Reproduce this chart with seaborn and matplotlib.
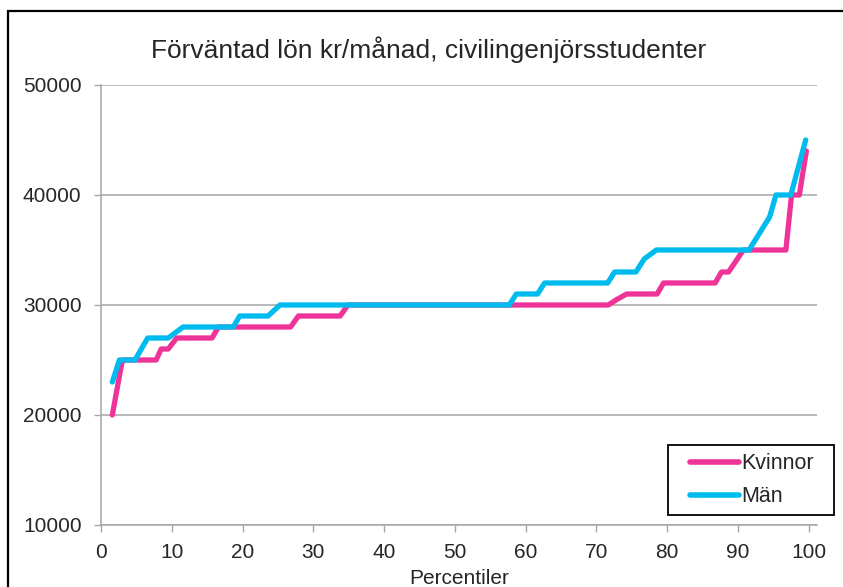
"""Expected monthly salary by percentile for engineering students (women vs men)."""

import matplotlib.pyplot as plt
import pandas as pd
import seaborn as sns
from matplotlib.patches import Rectangle

# polyline vertices (percentile, kr/month)
KVINNOR_PCT = [1.6, 2.9, 3.1, 7.8, 8.5, 9.5, 10.7, 15.7, 16.6, 26.8, 27.9, 33.8, 34.9,
               71.7, 72.9, 74.3, 78.6, 79.5, 86.8, 87.7, 88.7, 90.8, 96.8, 97.6, 98.7, 99.7]
KVINNOR_LON = [20000, 24600, 25000, 25000, 26000, 26000, 27000, 27000, 28000, 28000, 29000, 29000, 30000,
               30000, 30500, 31000, 31000, 32000, 32000, 33000, 33000, 35000, 35000, 40000, 40000, 44000]

MAN_PCT = [1.6, 2.6, 4.8, 6.6, 9.5, 11.6, 18.7, 19.6, 23.6, 25.3, 57.7, 58.7, 61.7,
           62.7, 71.6, 72.6, 75.6, 76.8, 78.5, 91.6, 94.5, 95.4, 97.5, 99.6]
MAN_LON = [23000, 25000, 25000, 27000, 27000, 28000, 28000, 29000, 29000, 30000, 30000, 31000, 31000,
           32000, 32000, 33000, 33000, 34200, 35000, 35000, 38000, 40000, 40000, 45000]

SERIES = ["Kvinnor", "Män"]
PALETTE = {"Kvinnor": "#EE3399", "Män": "#00BBEE"}
X_TICKS = list(range(0, 101, 10))
Y_TICKS = [10000, 20000, 30000, 40000, 50000]
TITLE = "Förväntad lön kr/månad, civilingenjörsstudenter"
GRAY = "#a6a6a6"

W, H = 843, 587


def build_frame() -> pd.DataFrame:
    women = pd.DataFrame({"Percentil": KVINNOR_PCT, "Lon": KVINNOR_LON, "Kon": "Kvinnor"})
    men = pd.DataFrame({"Percentil": MAN_PCT, "Lon": MAN_LON, "Kon": "Män"})
    return pd.concat([women, men], ignore_index=True)


def main() -> None:
    sns.set_style("white")
    plt.rcParams["font.family"] = ["Liberation Sans", "DejaVu Sans"]

    data = build_frame()
    fig = plt.figure(figsize=(W / 100, H / 100), dpi=100)
    ax = fig.add_axes([101 / W, 1 - 525 / H, (817 - 101) / W, (525 - 85) / H])

    sns.lineplot(
        data=data, x="Percentil", y="Lon", hue="Kon", hue_order=SERIES,
        palette=PALETTE, estimator=None, sort=False, linewidth=3.8,
        solid_capstyle="round", solid_joinstyle="round", ax=ax,
    )

    ax.set_xlim(0, 101.2)
    ax.set_ylim(10000, 50000)
    ax.set_xticks(X_TICKS)
    ax.set_yticks(Y_TICKS)
    ax.yaxis.grid(True, color=GRAY, linewidth=1.1)
    ax.set_axisbelow(True)
    for side in ("top", "right"):
        ax.spines[side].set_visible(False)
    for side in ("left", "bottom"):
        ax.spines[side].set_color(GRAY)
        ax.spines[side].set_linewidth(1.1)
    ax.tick_params(axis="y", length=5, width=1, color=GRAY, pad=9, labelsize=15, left=True)
    ax.tick_params(axis="x", length=5, width=1, color=GRAY, pad=8, labelsize=15, bottom=True)

    ax.set_ylabel("")
    ax.set_xlabel("Percentiler", fontsize=15)
    ax.xaxis.set_label_coords(0.5, -0.1)

    fig.text(429 / W, 1 - 50 / H, TITLE, ha="center", va="center", fontsize=19)

    # legend entries without frame; the wider Excel-style box is drawn separately
    handles, labels = ax.get_legend_handles_labels()
    leg = ax.legend(
        handles, labels, loc="lower right",
        bbox_to_anchor=(825 / W, 1 - 518 / H), bbox_transform=fig.transFigure,
        borderaxespad=0, fontsize=15.5, frameon=False, handlelength=2.3,
        handletextpad=0.1, borderpad=0.5, labelspacing=0.55,
    )
    for line in leg.get_lines():
        line.set_linewidth(4)
        line.set_solid_capstyle("round")
    leg.set_zorder(6)
    ax.add_patch(Rectangle(
        (668 / W, 1 - 515 / H), (834 - 668) / W, (515 - 445) / H, transform=fig.transFigure,
        facecolor="white", edgecolor="black", linewidth=1.3, zorder=5, clip_on=False,
    ))

    fig.patches.append(Rectangle(
        (8 / W, -0.1), 1.2, 1.1 - 10.5 / H, transform=fig.transFigure,
        fill=False, edgecolor="black", linewidth=1.6, zorder=-1,
    ))

    fig.savefig("out.png", dpi=100)
    plt.close(fig)


if __name__ == "__main__":
    main()
